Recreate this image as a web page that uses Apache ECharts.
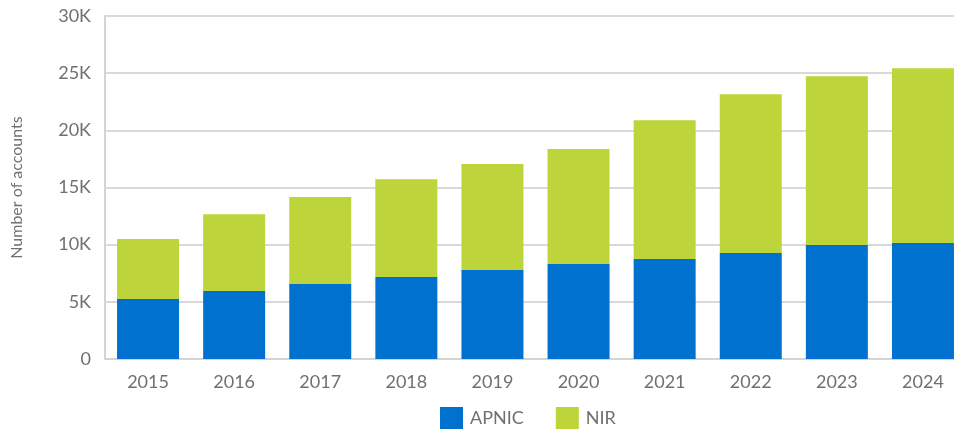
<!DOCTYPE html>
<html>
<head>
<meta charset="utf-8">
<style>
    html, body { margin: 0; padding: 0; background: #fff; overflow: hidden; }
    /* chart runs a little past the right edge, as in the reference */
    #accounts { width: 966px; height: 436px; }
</style>
<script src="https://cdn.jsdelivr.net/npm/echarts@6/dist/echarts.min.js"></script>
</head>
<body>
<div id="accounts"></div>
<script>
// values
const years = ['2015', '2016', '2017', '2018', '2019', '2020', '2021', '2022', '2023', '2024'];
const apnic = [5240, 5940, 6560, 7170, 7780, 8300, 8740, 9270, 9970, 10140];
const nir = [5250, 6730, 7600, 8560, 9270, 10060, 12150, 13890, 14770, 15300];

const textColor = '#707070';
const font = 'Lato, "Open Sans", sans-serif';

let myChart = echarts.init(document.getElementById('accounts'));
myChart.setOption({
    animation: false,
    color: ['#0071ce', '#bdd43a'],
    grid: { left: 105, right: 0, top: 16, bottom: 77 },
    legend: {
        bottom: 2,
        left: 435,
        itemWidth: 23,
        itemHeight: 22,
        itemGap: 32,
        icon: 'rect',
        textStyle: { color: textColor, fontSize: 18, fontFamily: font, padding: [0, 0, 0, 2] },
        data: ['APNIC', 'NIR']
    },
    xAxis: {
        type: 'category',
        data: years,
        axisLine: { lineStyle: { color: '#d4d4d4', width: 2 } },
        axisTick: { show: false },
        axisLabel: { color: textColor, fontSize: 18, fontFamily: font, margin: 14 }
    },
    yAxis: {
        type: 'value',
        min: 0,
        max: 30000,
        interval: 5000,
        name: 'Number of accounts',
        nameLocation: 'middle',
        nameGap: 80,
        nameTextStyle: { color: textColor, fontSize: 16, fontFamily: font },
        axisLine: { show: true, lineStyle: { color: '#d4d4d4', width: 2 } },
        axisTick: { show: false },
        splitLine: { lineStyle: { color: '#d9d9d9', width: 2 } },
        axisLabel: {
            color: textColor, fontSize: 18, fontFamily: font, margin: 14,
            formatter: v => v === 0 ? '0' : (v / 1000) + 'K'
        }
    },
    series: [
        { name: 'APNIC', type: 'bar', stack: 'total', data: apnic, barCategoryGap: '28%' },
        { name: 'NIR', type: 'bar', stack: 'total', data: nir, barCategoryGap: '28%' }
    ]
});
</script>
</body>
</html>
